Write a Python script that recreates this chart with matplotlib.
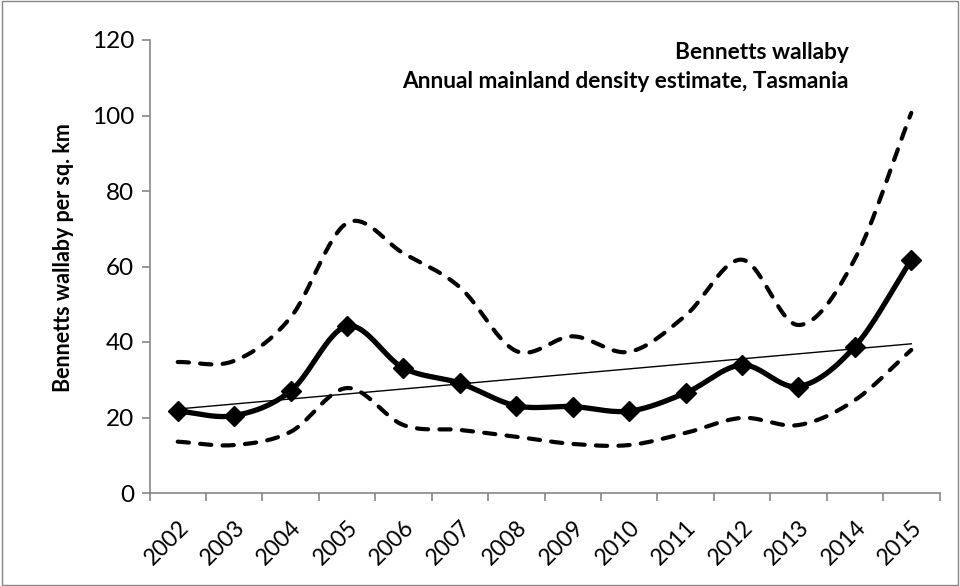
import numpy as np
import matplotlib.pyplot as plt
from matplotlib.patches import Rectangle

years = ['2002', '2003', '2004', '2005', '2006', '2007', '2008',
         '2009', '2010', '2011', '2012', '2013', '2014', '2015']
density = [21.7, 20.5, 27.0, 44.2, 33.1, 29.1, 23.1,
           22.9, 21.7, 26.5, 33.9, 28.2, 38.8, 61.7]
upper_ci = [34.7, 35.0, 46.5, 71.5, 63.5, 54.5, 37.6,
            41.5, 37.4, 47.0, 61.8, 44.5, 62.0, 100.7]
lower_ci = [13.6, 12.7, 16.2, 27.8, 18.0, 16.7, 14.9,
            13.0, 12.7, 15.9, 19.9, 18.0, 24.6, 37.9]

plt.rcParams['font.family'] = ['Lato', 'DejaVu Sans']


def smooth(x, y, n=30):
    # Catmull-Rom spline through the points, like a spreadsheet's smoothed line
    x = np.asarray(x, float)
    y = np.asarray(y, float)
    px = np.concatenate([[2 * x[0] - x[1]], x, [2 * x[-1] - x[-2]]])
    py = np.concatenate([[2 * y[0] - y[1]], y, [2 * y[-1] - y[-2]]])
    xs, ys = [], []
    t = np.linspace(0, 1, n)
    for i in range(1, len(px) - 2):
        p0, p1, p2, p3 = py[i - 1], py[i], py[i + 1], py[i + 2]
        q0, q1, q2, q3 = px[i - 1], px[i], px[i + 1], px[i + 2]
        for a, b, c, d, out in ((q0, q1, q2, q3, xs), (p0, p1, p2, p3, ys)):
            out.extend(0.5 * (2 * b + (-a + c) * t
                              + (2 * a - 5 * b + 4 * c - d) * t ** 2
                              + (-a + 3 * b - 3 * c + d) * t ** 3))
    return np.array(xs), np.array(ys)


fig = plt.figure(figsize=(9.6, 5.86), dpi=100)
ax = fig.add_axes([149.5 / 960, 1 - 493 / 586, 790 / 960, 453 / 586])

x = np.arange(len(years))

# confidence bounds
for bound in (upper_ci, lower_ci):
    sx, sy = smooth(x, bound)
    ax.plot(sx, sy, color='black', lw=3.0, dashes=(2.7, 2.7),
            dash_capstyle='round')

sx, sy = smooth(x, density)
ax.plot(sx, sy, color='black', lw=3.8)
ax.plot(x, density, 'D', color='black', markersize=10.5)

# linear trend of the density estimate
coef = np.polyfit(x, density, 1)
ax.plot([x[0], x[-1]], np.polyval(coef, [x[0], x[-1]]), color='black', lw=1)

ax.set_xlim(-0.5, len(years) - 0.5)
ax.set_ylim(0, 120)
ax.set_yticks(range(0, 121, 20))
ax.set_xticks(x)
ax.set_xticklabels(years, rotation=45, ha='right', rotation_mode='anchor',
                   fontsize=16.5)
ax.set_xticks(np.arange(-0.5, len(years)), minor=True)
ax.tick_params(axis='x', which='major', length=0, pad=17)
ax.tick_params(axis='x', which='minor', length=6, color='#868686', width=1.2)
ax.tick_params(axis='y', length=6, color='#868686', width=1.2, labelsize=17.5,
               pad=5)

for side in ('top', 'right'):
    ax.spines[side].set_visible(False)
for side in ('left', 'bottom'):
    ax.spines[side].set_color('#868686')
    ax.spines[side].set_linewidth(1.2)

ax.set_ylabel('Bennetts wallaby per sq. km', fontsize=15.5, fontweight='bold')
ax.yaxis.set_label_coords(-0.096, 0.52)

ax.text(0.885, 0.958, 'Bennetts wallaby', transform=ax.transAxes,
        ha='right', va='baseline', fontsize=16.3, fontweight='bold')
ax.text(0.885, 0.894, 'Annual mainland density estimate, Tasmania',
        transform=ax.transAxes, ha='right', va='baseline', fontsize=16.3,
        fontweight='bold')

fig.patches.append(Rectangle((0.002, 0.002), 0.996, 0.996, transform=fig.transFigure,
                             fill=False, edgecolor='#868686', lw=1))

fig.savefig('out.png', dpi=100)
